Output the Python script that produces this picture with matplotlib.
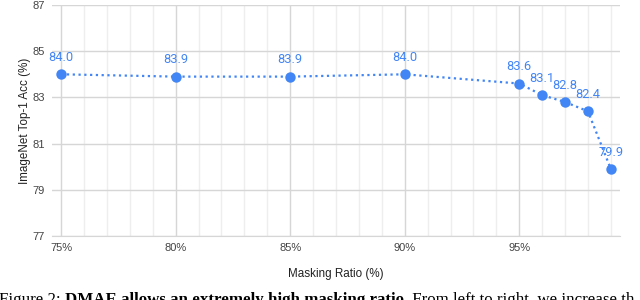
import matplotlib.pyplot as plt
from matplotlib.ticker import MultipleLocator, FuncFormatter

# datos
ratio = [75, 80, 85, 90, 95, 96, 97, 98, 99]
acc = [84.0, 83.9, 83.9, 84.0, 83.6, 83.1, 82.8, 82.4, 79.9]
etiquetas = ['84.0', '83.9', '83.9', '84.0', '83.6', '83.1', '82.8', '82.4', '79.9']
yticks = [77, 79, 81, 83, 85, 87]

azul = '#4285f4'
plt.rcParams['font.family'] = ['Liberation Sans', 'DejaVu Sans']

fig = plt.figure(figsize=(6.4, 3.0), dpi=100)
ax = fig.add_axes([52 / 640, 64 / 300, 568 / 640, 231 / 300])

ax.plot(ratio, acc, linestyle=(0, (1, 1.6)), color=azul, linewidth=1.6,
        marker='o', markersize=7.5, markerfacecolor=azul, markeredgewidth=0,
        zorder=3, clip_on=False)
for x, y, s in zip(ratio, acc, etiquetas):
    ax.annotate(s, (x, y), xytext=(0, 7.5), textcoords='offset points',
                ha='center', va='bottom', color=azul, fontsize=9.3,
                family=['Roboto', 'DejaVu Sans'], annotation_clip=False)

ax.set_xlim(74.6, 99.4)
ax.set_ylim(77, 87)
ax.set_yticks(yticks)
ax.xaxis.set_major_locator(MultipleLocator(5))
ax.xaxis.set_minor_locator(MultipleLocator(1))
ax.xaxis.set_major_formatter(FuncFormatter(lambda v, p: f'{v:.0f}%'))

ax.grid(True, which='major', color='#d6d6d6', linewidth=1.0)
ax.grid(True, which='minor', axis='x', color='#eeeeee', linewidth=1.0)
ax.set_axisbelow(True)
for lado in ['top', 'right', 'left']:
    ax.spines[lado].set_visible(False)
ax.spines['bottom'].set_color('#d6d6d6')
ax.tick_params(axis='both', which='both', length=0, labelsize=8.0,
               labelcolor='#444444')
ax.tick_params(axis='x', pad=5)
ax.tick_params(axis='y', pad=5)

ax.set_xlabel('Masking Ratio (%)', fontsize=8.4, color='#222222', labelpad=11)
ax.set_ylabel('ImageNet Top-1 Acc (%)', fontsize=8.4, color='#222222', labelpad=1)

# pie de figura (cortado por abajo, como en la captura)
r = fig.canvas.get_renderer()
partes = [('Figure 2: ', 'normal'),
          ('DMAE allows an extremely high masking ratio.', 'bold'),
          (' From left to right, we increase th', 'normal')]
x0 = -1
for txt, peso in partes:
    t = fig.text(x0 / 640, -4 / 300, txt, fontsize=12.2, fontweight=peso,
                 family=['Liberation Serif', 'DejaVu Serif'],
                 ha='left', va='baseline', color='black')
    x0 += t.get_window_extent(renderer=r).width

fig.savefig('out.png', dpi=100)
